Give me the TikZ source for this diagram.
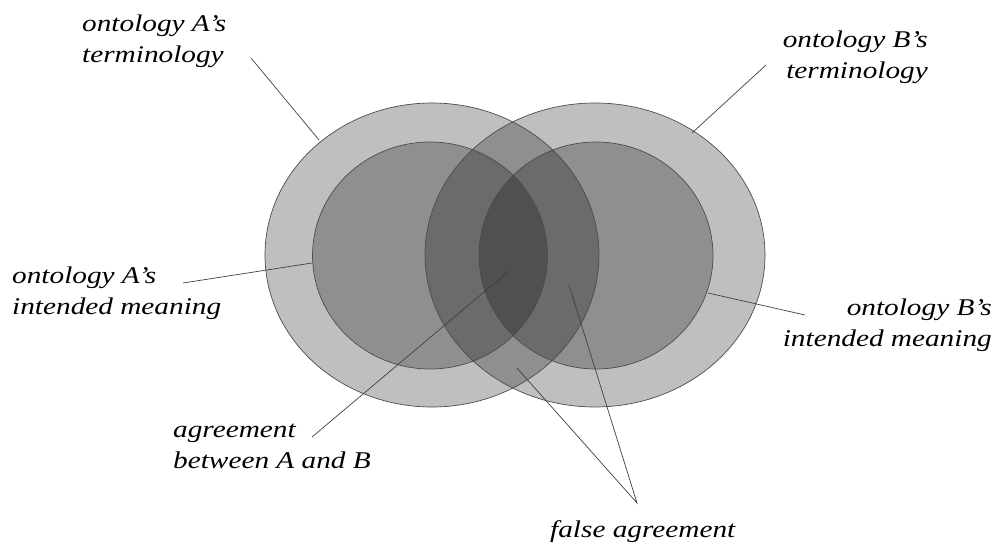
\documentclass[tikz,border=0pt]{standalone}
\usepackage{fontspec}
\newfontfamily\labelfont{Liberation Serif}[FakeStretch=1.22]
\begin{document}
\begin{tikzpicture}[x=1pt,y=-1pt,
  lbl/.style={font=\labelfont\itshape\fontsize{24}{31}\selectfont, inner sep=0pt},
  region/.style={fill=black, fill opacity=0.25},
  rim/.style={draw=black!70, line width=0.7pt},
  leader/.style={draw=black!75, line width=0.7pt}]
\useasboundingbox (0,0) rectangle (995,548);

% translucent fills: terminology (outer) and intended meaning (inner) of A and B
\fill[region] (432,255) ellipse [x radius=167, y radius=152];
\fill[region] (595,255) ellipse [x radius=170, y radius=152];
\fill[region] (430,255.5) ellipse [x radius=117.5, y radius=113.5];
\fill[region] (596,255.5) ellipse [x radius=117, y radius=113.5];
% outlines on top
\draw[rim] (432,255) ellipse [x radius=167, y radius=152];
\draw[rim] (595,255) ellipse [x radius=170, y radius=152];
\draw[rim] (430,255.5) ellipse [x radius=117.5, y radius=113.5];
\draw[rim] (596,255.5) ellipse [x radius=117, y radius=113.5];

% labels (base anchor sits on the last line)
\node[lbl, anchor=base west, align=left] (aTerm) at (82,63) {ontology A’s\\terminology};
\node[lbl, anchor=base east, align=right] (bTerm) at (928,79) {ontology B’s\\terminology};
\node[lbl, anchor=base west, align=left] (aMean) at (12,314) {ontology A’s\\intended meaning};
\node[lbl, anchor=base east, align=right] (bMean) at (992,346) {ontology B’s\\intended meaning};
\node[lbl, anchor=base west, align=left] (agree) at (173,468) {agreement\\between A and B};
\node[lbl, anchor=base west] (falseAg) at (550,537) {false agreement};

% leader line end points
\coordinate (aTermFrom) at (251,58);   \coordinate (aTermTo) at (319,140);
\coordinate (bTermFrom) at (766,65);   \coordinate (bTermTo) at (692,133);
\coordinate (aMeanFrom) at (183,283);  \coordinate (aMeanTo) at (312,263);
\coordinate (bMeanFrom) at (805,315);  \coordinate (bMeanTo) at (708,293);
\coordinate (agreeFrom) at (312,437);  \coordinate (agreeTo) at (509,271);
\coordinate (falseApex) at (637,503);
\coordinate (falseLow) at (517,368);   \coordinate (falseHigh) at (569,285);

\draw[leader] (aTermFrom) -- (aTermTo);
\draw[leader] (bTermFrom) -- (bTermTo);
\draw[leader] (aMeanFrom) -- (aMeanTo);
\draw[leader] (bMeanFrom) -- (bMeanTo);
\draw[leader] (agreeFrom) -- (agreeTo);
\draw[leader] (falseLow) -- (falseApex) -- (falseHigh);
\end{tikzpicture}
\end{document}
